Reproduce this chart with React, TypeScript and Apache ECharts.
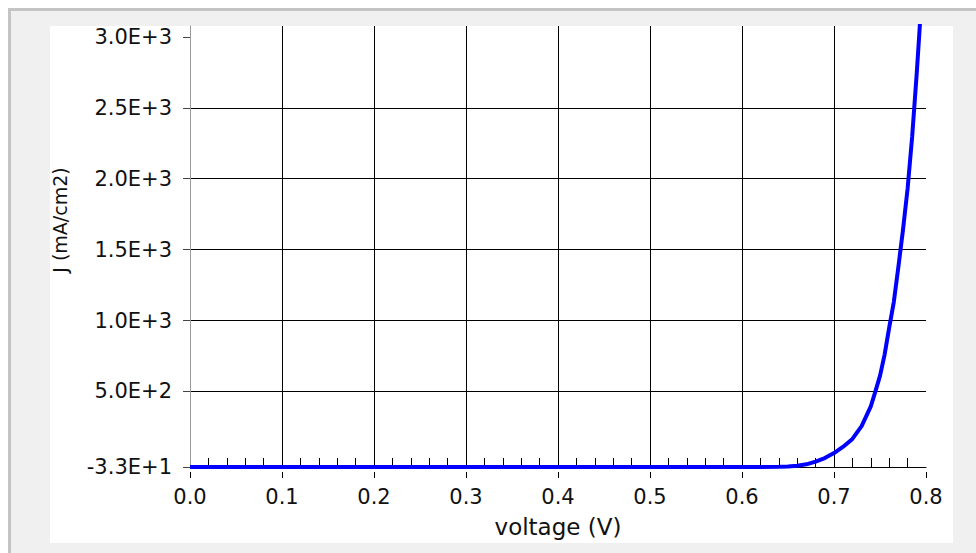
import React, { useEffect, useRef } from 'react';
import * as echarts from 'echarts';

// Data
const voltage = [0, 0.1, 0.2, 0.3, 0.4, 0.5, 0.6, 0.62, 0.64, 0.65, 0.66, 0.67, 0.68, 0.69, 0.7, 0.71, 0.72, 0.73, 0.74, 0.745, 0.75, 0.755, 0.76, 0.765, 0.77, 0.775, 0.78, 0.785, 0.79, 0.795];
const currentDensity = [-33, -33, -33, -33, -33, -33, -33, -32.8, -32, -30, -24, -14, 5, 30, 65, 110, 165, 255, 395, 500, 610, 760, 950, 1130, 1380, 1640, 1930, 2300, 2750, 3250];

const yTickValues = [-33, 500, 1000, 1500, 2000, 2500, 3000];
const xMin = 0;
const xMax = 0.8;
const xStep = 0.1;
const yMin = -33;
const yMax = 3077;

const xAxisTitle = 'voltage (V)';
const yAxisTitle = 'J (mA/cm2)';

export default function App() {
  const ref = useRef<HTMLDivElement>(null);

  useEffect(() => {
    if (!ref.current) return;
    const chart = echarts.init(ref.current, null, { renderer: 'svg' });
    const font = 'DejaVu Sans';
    const textColor = '#111';

    chart.setOption({
      animation: false,
      backgroundColor: '#f0f0f0',
      graphic: [
        { type: 'rect', z: -10, silent: true, shape: { x: 0, y: 0, width: 968, height: 3 }, style: { fill: '#c4c4c4' } },
        { type: 'rect', z: -10, silent: true, shape: { x: 0, y: 0, width: 3, height: 545 }, style: { fill: '#c4c4c4' } },
        { type: 'rect', z: -10, silent: true, shape: { x: 42, y: 18, width: 903, height: 517 }, style: { fill: '#ffffff' } },
        {
          type: 'text',
          z: 10,
          x: 52,
          y: 212,
          rotation: Math.PI / 2,
          style: {
            text: yAxisTitle,
            fontSize: 19,
            fontFamily: font,
            fill: textColor,
            align: 'center',
            verticalAlign: 'middle',
          },
        },
      ],
      grid: { left: 182, right: 50, top: 18, bottom: 86, containLabel: false },
      xAxis: [
        {
          type: 'value',
          min: xMin,
          max: xMax,
          interval: xStep,
          position: 'bottom',
          name: xAxisTitle,
          nameLocation: 'middle',
          nameGap: 48,
          nameTextStyle: { fontSize: 23, fontFamily: font, color: textColor },
          axisLine: { show: true, onZero: false, lineStyle: { color: '#000', width: 1 } },
          axisTick: { show: false },
          axisLabel: {
            formatter: (v: number) => v.toFixed(1),
            margin: 19,
            fontSize: 21,
            fontFamily: font,
            color: textColor,
          },
          splitLine: { show: true, showMinLine: false, showMaxLine: false, lineStyle: { color: '#000', width: 1 } },
        },
        {
          type: 'value',
          min: xMin,
          max: xMax,
          interval: xStep,
          position: 'bottom',
          axisLine: { show: false, onZero: false },
          axisTick: { show: false, inside: true },
          axisLabel: { show: false },
          splitLine: { show: false },
          minorTick: { show: true, splitNumber: 5, length: 9, lineStyle: { color: '#000', width: 1 } },
        },
        {
          type: 'value',
          min: xMin,
          max: xMax,
          interval: xStep,
          position: 'bottom',
          offset: 5,
          axisLine: { show: false, onZero: false },
          axisTick: { show: true, length: 6, lineStyle: { color: '#000', width: 1 } },
          axisLabel: { show: false },
          splitLine: { show: false },
        },
      ],
      yAxis: {
        type: 'value',
        min: yMin,
        max: yMax,
        axisLine: { show: true, onZero: false, lineStyle: { color: '#9a9a9a', width: 1 } },
        axisTick: { show: true, customValues: yTickValues, length: 7, lineStyle: { color: '#444' } },
        axisLabel: {
          customValues: yTickValues,
          formatter: (v: number) => v.toExponential(1).toUpperCase(),
          margin: 18,
          fontSize: 21,
          fontFamily: font,
          color: textColor,
        },
        splitLine: { show: true, showMinLine: false, showMaxLine: false, lineStyle: { color: '#000', width: 1 } },
      },
      series: [
        {
          type: 'line',
          xAxisIndex: 0,
          data: voltage.map((v, i) => [v, currentDensity[i]]),
          symbol: 'none',
          showSymbol: false,
          lineStyle: { color: '#0000ff', width: 4 },
          clip: true,
          z: 5,
        },
      ],
    });

    return () => chart.dispose();
  }, []);

  return (
    <div
      ref={ref}
      style={{ position: 'absolute', left: 8, top: 8, width: 968, height: 545 }}
    />
  );
}
